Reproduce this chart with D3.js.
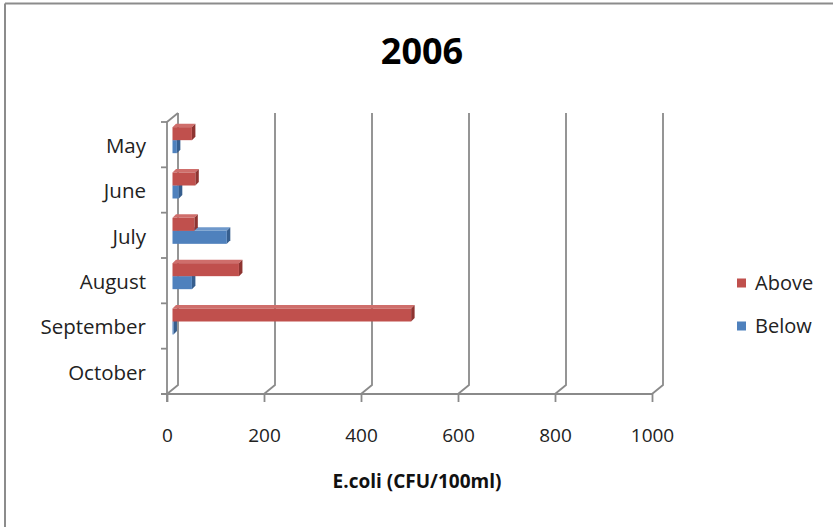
<!DOCTYPE html>
<html>
<head>
<meta charset="utf-8">
<script src="https://cdn.jsdelivr.net/npm/d3@7"></script>
<style>
  html, body { margin: 0; padding: 0; background: #fff; }
  svg { display: block; }
  text { font-family: "Open Sans", "Noto Sans", sans-serif; fill: #222; }
</style>
</head>
<body>
<svg id="chart" width="833" height="527"></svg>
<script>
// ---- data ----
const categories = ["May", "June", "July", "August", "September", "October"];
const seriesNames = ["Above", "Below"];
const aboveValues = [40, 47, 45, 137, 492, 0];
const belowValues = [9, 13, 112, 40, 2, 0];
const xTicks = [0, 200, 400, 600, 800, 1000];
const title = "2006";
const xTitle = "E.coli (CFU/100ml)";

// ---- layout ----
const svg = d3.select("#chart");
const W = 833, H = 527;
const front = { left: 167, right: 652, top: 122, bottom: 394 };
const depth = { dx: 11, dy: -9 };
const gridColor = "#8a8a8a";
const colors = {
  Above: { front: "#C0504D", top: "#CF6E6B", side: "#8E3431" },
  Below: { front: "#4F81BD", top: "#6E98CB", side: "#365E8E" }
};

const x = d3.scaleLinear().domain([0, 1000]).range([front.left, front.right]);
const y = d3.scaleBand().domain(categories).range([front.top, front.bottom]).padding(0);

// chart frame (visible top and left edges)
svg.append("line").attr("x1", 5).attr("x2", W).attr("y1", 3.5).attr("y2", 3.5)
  .attr("stroke", "#8c8c8c").attr("stroke-width", 2);
svg.append("line").attr("x1", 5).attr("x2", 5).attr("y1", 3.5).attr("y2", H)
  .attr("stroke", "#8c8c8c").attr("stroke-width", 2);

// title
svg.append("text").attr("x", 422).attr("y", 64).attr("text-anchor", "middle")
  .style("font-size", "36px").style("font-weight", "bold").style("fill", "#000")
  .text(title);

const grid = svg.append("g").attr("fill", "none").attr("stroke", gridColor).attr("stroke-width", 1.8);

// back wall gridlines with floor diagonals
xTicks.forEach(t => {
  const fx = x(t), bx = fx + depth.dx;
  grid.append("path")
    .attr("d", `M${bx},${front.top + depth.dy} L${bx},${front.bottom + depth.dy} L${fx},${front.bottom}`);
});

// left wall front edge + top diagonal
grid.append("path")
  .attr("d", `M${x(0) + depth.dx},${front.top + depth.dy} L${x(0)},${front.top} L${x(0)},${front.bottom + 8}`);

// floor front line
grid.append("line").attr("x1", front.left - 6).attr("x2", front.right)
  .attr("y1", front.bottom).attr("y2", front.bottom);

// category ticks on left
const catBounds = categories.map(c => y(c)).concat([front.bottom]);
catBounds.forEach(v => {
  grid.append("line").attr("x1", front.left - 6).attr("x2", front.left).attr("y1", v).attr("y2", v);
});

// x axis ticks & labels via d3 axis
const xAxis = d3.axisBottom(x).tickValues(xTicks).tickSize(8).tickFormat(d3.format("d"));
const xg = svg.append("g").attr("transform", `translate(0,${front.bottom})`).call(xAxis);
xg.select(".domain").remove();
xg.selectAll(".tick line").attr("stroke", gridColor).attr("stroke-width", 1.8);
xg.selectAll(".tick text").attr("y", 41).attr("dy", "0.35em")
  .style("font-size", "19px").style("font-family", "'Open Sans', sans-serif").attr("fill", "#222");

// category labels
svg.append("g").selectAll("text").data(categories).join("text")
  .attr("x", 146).attr("y", d => y(d) + y.bandwidth() / 2 + 1)
  .attr("dy", "0.35em").attr("text-anchor", "end")
  .style("font-size", "20.5px")
  .text(d => d);

// bars (3D-ish)
const barH = 13, bd = 3.5;
const midDx = depth.dx / 2, midDy = depth.dy / 2;
const bars = svg.append("g");
const seriesData = [
  { name: "Above", values: aboveValues, offset: -barH },
  { name: "Below", values: belowValues, offset: 0 }
];
// draw Below first then Above so upper bar's faces sit on top
[seriesData[1], seriesData[0]].forEach(s => {
  s.values.forEach((v, i) => {
    if (v <= 0) return;
    const cy = y(categories[i]) + y.bandwidth() / 2 + midDy;
    const x0 = x(0) + midDx;
    const x1 = x(v) + midDx;
    const yt = cy + s.offset;
    const c = colors[s.name];
    bars.append("path").attr("fill", c.top)
      .attr("d", `M${x0},${yt} L${x0 + bd},${yt - bd} L${x1 + bd},${yt - bd} L${x1},${yt} Z`);
    bars.append("path").attr("fill", c.side)
      .attr("d", `M${x1},${yt} L${x1 + bd},${yt - bd} L${x1 + bd},${yt + barH - bd} L${x1},${yt + barH} Z`);
    bars.append("rect").attr("fill", c.front)
      .attr("x", x0).attr("y", yt).attr("width", Math.max(0.5, x1 - x0)).attr("height", barH);
  });
});

// x axis title
svg.append("text").attr("x", 417).attr("y", 481).attr("dy", "0.35em").attr("text-anchor", "middle")
  .style("font-size", "19px").style("font-weight", "bold").style("fill", "#111")
  .text(xTitle);

// legend
const legendY = [283, 326];
const leg = svg.append("g");
seriesNames.forEach((n, i) => {
  leg.append("rect").attr("x", 737).attr("y", legendY[i] - 4.5).attr("width", 9).attr("height", 9)
    .attr("fill", colors[n].front);
  leg.append("text").attr("x", 755).attr("y", legendY[i]).attr("dy", "0.35em")
    .style("font-size", "20px").text(n);
});
</script>
</body>
</html>
